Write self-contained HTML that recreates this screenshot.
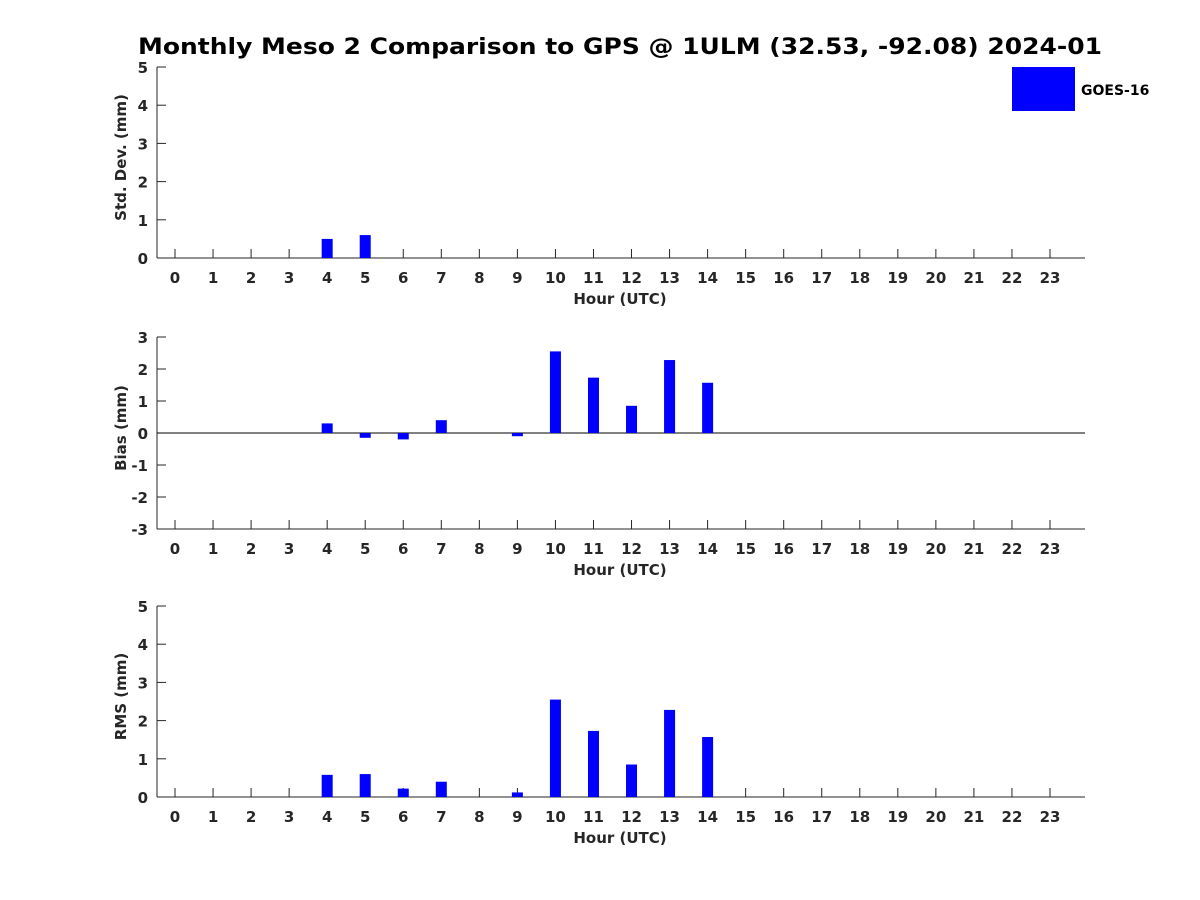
<!DOCTYPE html>
<html><head><meta charset="utf-8"><style>
body{margin:0;background:#fff;}
svg{display:block;font-family:"DejaVu Sans","Liberation Sans",sans-serif;font-weight:bold;}
</style></head><body>
<svg id="c" width="1200" height="900" xmlns="http://www.w3.org/2000/svg">
<text x="138" y="54" textLength="964" lengthAdjust="spacingAndGlyphs" font-size="22" fill="#000">Monthly Meso 2 Comparison to GPS @ 1ULM (32.53, -92.08) 2024-01</text>
<rect x="1012" y="67" width="63" height="44" fill="#0000ff"/>
<text x="1081" y="95" font-size="14" fill="#000">GOES-16</text>
</svg>
<script>
const hours = [0,1,2,3,4,5,6,7,8,9,10,11,12,13,14,15,16,17,18,19,20,21,22,23];
const stdValues = {4:0.5, 5:0.6};
const biasValues = {4:0.3, 5:-0.15, 6:-0.2, 7:0.4, 9:-0.1, 10:2.55, 11:1.73, 12:0.85, 13:2.28, 14:1.57};
const rmsValues = {4:0.58, 5:0.6, 6:0.22, 7:0.4, 9:0.12, 10:2.55, 11:1.73, 12:0.85, 13:2.28, 14:1.57};
const stdTicks = [0,1,2,3,4,5];
const biasTicks = [-3,-2,-1,0,1,2,3];
const rmsTicks = [0,1,2,3,4,5];

const NS = "http://www.w3.org/2000/svg";
const svg = document.getElementById('c');
function mk(tag, attrs){const e=document.createElementNS(NS,tag);for(const k in attrs)e.setAttribute(k,attrs[k]);svg.appendChild(e);return e;}
const xL=157, xR=1085;
function xs(h){return 175 + h*(1050-175)/23;}

function panel(key, top, bottom, ymin, ymax, ticks, vals, ylabel, zeroLine){
  const ys = v => bottom - (v-ymin)/(ymax-ymin)*(bottom-top);
  let a = mk('line',{x1:xL,y1:top,x2:xL,y2:bottom,stroke:'#262626','stroke-width':1});
  
  
  a = mk('line',{x1:xL,y1:bottom,x2:xR,y2:bottom,stroke:'#262626','stroke-width':1});
  
  
  ticks.forEach(t=>{
    const y=ys(t);
    const l=mk('line',{x1:xL,y1:y,x2:xL+9,y2:y,stroke:'#262626'});
    
    
    const tx=mk('text',{x:xL-9,y:y+6,'text-anchor':'end','font-size':15,fill:'#262626'});
    tx.textContent=t;
    
    
  });
  hours.forEach(h=>{
    const x=xs(h);
    const l=mk('line',{x1:x,y1:bottom,x2:x,y2:bottom-9,stroke:'#262626'});
    
    
    const tx=mk('text',{x:x,y:bottom+25,'text-anchor':'middle','font-size':15,fill:'#262626'});
    tx.textContent=h;
    
    
  });
  const xt=mk('text',{x:620,y:bottom+46,'text-anchor':'middle','font-size':15,fill:'#262626'});
  xt.textContent='Hour (UTC)';
  
  
  const cy=(top+bottom)/2 - 5;
  const yt=mk('text',{x:0,y:0,'text-anchor':'middle','font-size':15,fill:'#262626',transform:`translate(126,${cy}) rotate(-90)`});
  yt.textContent=ylabel;
  
  
  if(zeroLine){
    const z=mk('line',{x1:xL,y1:ys(0),x2:xR,y2:ys(0),stroke:'#000'});
    
    
  }
  for(const h in vals){
    const v=vals[h], y0=ys(0), y1=ys(v);
    const b=mk('rect',{x:xs(+h)-5.5,y:Math.min(y0,y1),width:11,height:Math.abs(y1-y0),fill:'#0000ff'});
    
    
  }
}
panel('std',67,258,0,5,stdTicks,stdValues,'Std. Dev. (mm)',false);
panel('bias',337,529,-3,3,biasTicks,biasValues,'Bias (mm)',true);
panel('rms',606,797,0,5,rmsTicks,rmsValues,'RMS (mm)',false);
</script>
</body></html>
